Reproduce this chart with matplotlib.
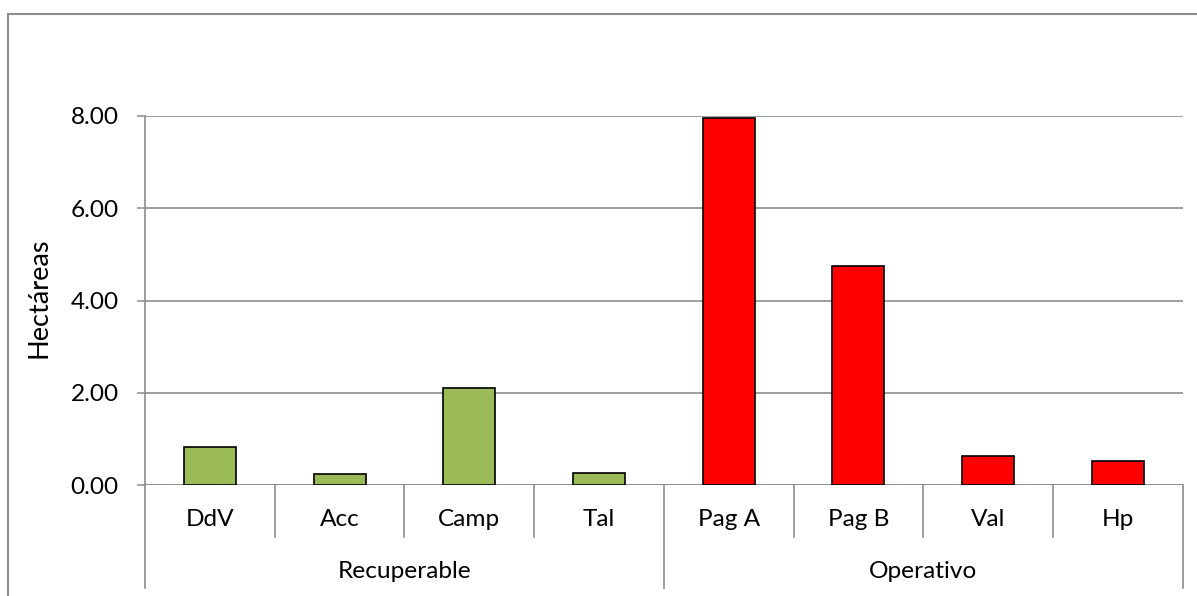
import matplotlib
matplotlib.use("Agg")
import matplotlib.pyplot as plt
from matplotlib.patches import Rectangle
import matplotlib.transforms as mtransforms

plt.rcParams['font.family'] = ['Lato', 'DejaVu Sans']

# Data
categories = ["DdV", "Acc", "Camp", "Tal", "Pag A", "Pag B", "Val", "Hp"]
hectareas = [0.83, 0.24, 2.11, 0.27, 7.95, 4.75, 0.63, 0.51]
groups = ["Recuperable", "Operativo"]
group_sizes = [4, 4]
group_colors = ["#9BBB59", "#FF0000"]
y_ticks = [0, 2, 4, 6, 8]
y_label = "Hectáreas"

W, H = 1197, 596
fig = plt.figure(figsize=(W / 100, H / 100), dpi=100)
ax = fig.add_axes([145 / W, 1 - 485 / H, (1182.7 - 145) / W, (485 - 116) / H])

grid_color = "#8C8C8C"
fs = 17.6

bar_colors = []
for g, n in enumerate(group_sizes):
    bar_colors += [group_colors[g]] * n
xs = list(range(len(categories)))
ax.bar(xs, hectareas, width=0.4, color=bar_colors, edgecolor="black",
       linewidth=1.2, zorder=3)

ax.set_xlim(-0.5, len(categories) - 0.5)
ax.set_ylim(0, 8)
ax.set_yticks(y_ticks)
ax.set_yticklabels([f"{v:.2f}" for v in y_ticks], fontsize=fs)
ax.tick_params(axis="y", length=6, width=1.1, color=grid_color, pad=13)
ax.set_xticks([])
ax.yaxis.grid(True, color=grid_color, linewidth=1.2, zorder=0)
for s in ["top", "right", "bottom"]:
    ax.spines[s].set_visible(False)
ax.spines["left"].set_color(grid_color)
ax.spines["left"].set_linewidth(1.2)
ax.axhline(0, color=grid_color, linewidth=1.2, zorder=2)

# Multi-level category axis
trans = mtransforms.blended_transform_factory(ax.transData, ax.transAxes)
short_h = 52 / 369
long_h = 103 / 369
bounds = [-0.5]
for n in group_sizes:
    bounds.append(bounds[-1] + n)
for i in range(len(categories) + 1):
    x = i - 0.5
    depth = long_h if x in bounds else short_h
    ax.plot([x, x], [0, -depth], transform=trans, color=grid_color,
            linewidth=1.2, clip_on=False)
for i, c in enumerate(categories):
    ax.text(i, -35 / 369, c, transform=trans, ha="center", va="center",
            fontsize=fs, color="black")
for g, name in enumerate(groups):
    mid = (bounds[g] + bounds[g + 1]) / 2
    ax.text(mid, -87 / 369, name, transform=trans, ha="center", va="center",
            fontsize=fs, color="black")

fig.text(39 / W, 1 - 298 / H, y_label, rotation=90, ha="center", va="center",
         fontsize=19.5, color="black")

# Chart-area frame
fig.patches.append(Rectangle((8 / W, -0.05), 1.2, 1 - 14 / H + 0.05,
                             transform=fig.transFigure, fill=False,
                             edgecolor=grid_color, linewidth=1.5))

fig.savefig("out.png", dpi=100, facecolor="white")
